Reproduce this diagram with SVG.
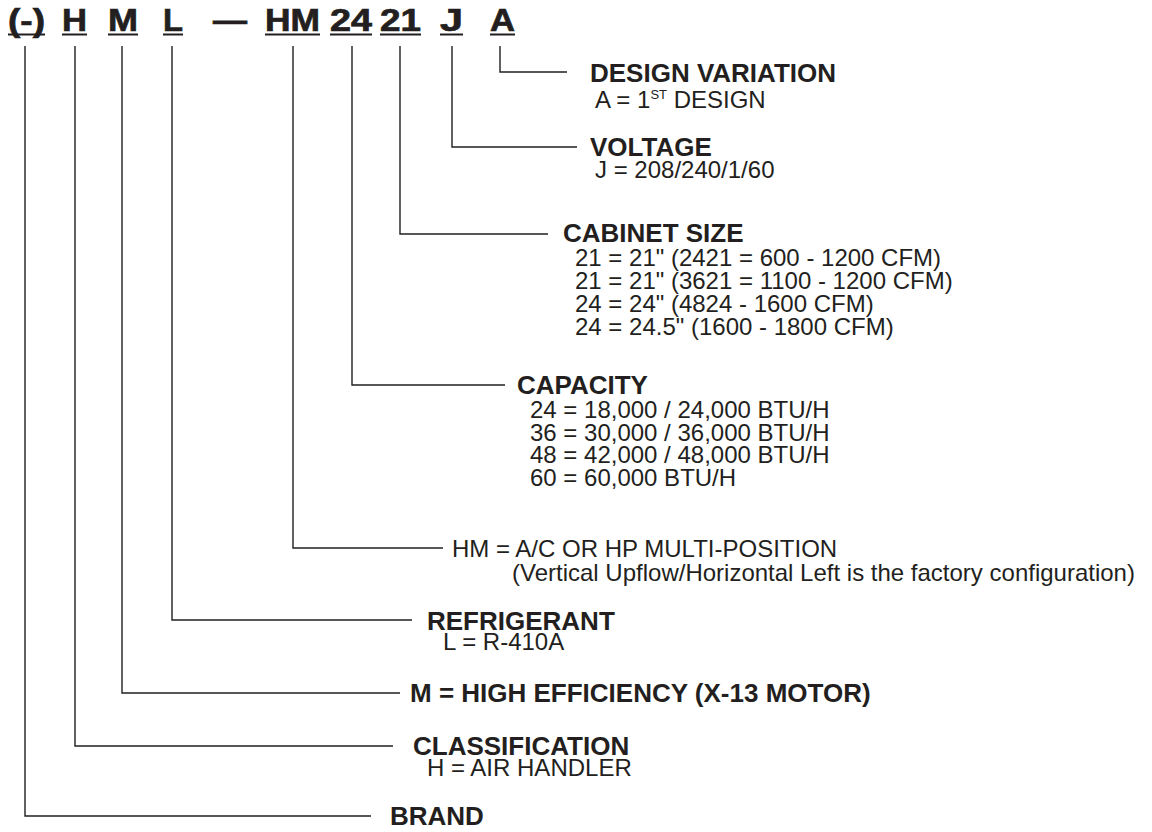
<svg xmlns="http://www.w3.org/2000/svg" width="1152" height="832" viewBox="0 0 1152 832">
<style>
text{font-family:"Liberation Sans",Arial,Helvetica,sans-serif;fill:#231f20}
.code{font-size:31px;font-weight:bold;stroke:#231f20;stroke-width:0.7px}
.h{font-size:26px;font-weight:bold}
.r{font-size:24px}
.sup{font-size:13px}
.ul{stroke:#231f20;stroke-width:2.2;fill:none}
.c{stroke:#231f20;stroke-width:1.4;fill:none}
</style>
<rect width="1152" height="832" fill="#ffffff"/>
<g id="code">
<text class="code" x="8" y="31" textLength="37" lengthAdjust="spacingAndGlyphs">(-)</text>
<text class="code" x="62" y="31" textLength="25" lengthAdjust="spacingAndGlyphs">H</text>
<text class="code" x="108" y="31" textLength="30" lengthAdjust="spacingAndGlyphs">M</text>
<text class="code" x="163" y="31" textLength="20" lengthAdjust="spacingAndGlyphs">L</text>
<text class="code" x="213" y="31" textLength="34" lengthAdjust="spacingAndGlyphs">—</text>
<text class="code" x="265" y="31" textLength="55" lengthAdjust="spacingAndGlyphs">HM</text>
<text class="code" x="330" y="31" textLength="42" lengthAdjust="spacingAndGlyphs">24</text>
<text class="code" x="380" y="31" textLength="41" lengthAdjust="spacingAndGlyphs">21</text>
<text class="code" x="440" y="31" textLength="23" lengthAdjust="spacingAndGlyphs">J</text>
<text class="code" x="490" y="31" textLength="25" lengthAdjust="spacingAndGlyphs">A</text>
<path class="ul" d="M8,34.5H45M62,34.5H87M108,34.5H138M163,34.5H183M265,34.5H320M330,34.5H372M380,34.5H421M440,34.5H463M490,34.5H515"/>
</g>
<g id="connectors">
<path class="c" d="M500,46V72H567"/>
<path class="c" d="M452,46V147H577"/>
<path class="c" d="M400,46V234H548"/>
<path class="c" d="M352,46V385H505"/>
<path class="c" d="M293,46V548H443"/>
<path class="c" d="M172,46V620H412"/>
<path class="c" d="M122,46V693H400"/>
<path class="c" d="M75,46V746H393"/>
<path class="c" d="M25,46V816H371"/>
</g>
<g id="design-variation">
<text class="h" x="590" y="82">DESIGN VARIATION</text>
<text class="r" x="595" y="108">A = 1<tspan class="sup" dy="-9">ST</tspan><tspan dy="9"> DESIGN</tspan></text>
</g>
<g id="voltage">
<text class="h" x="590" y="156">VOLTAGE</text>
<text class="r" x="595" y="178">J = 208/240/1/60</text>
</g>
<g id="cabinet-size">
<text class="h" x="563" y="242">CABINET SIZE</text>
<text class="r" x="575" y="266">21 = 21" (2421 = 600 - 1200 CFM)</text>
<text class="r" x="575" y="289">21 = 21" (3621 = 1100 - 1200 CFM)</text>
<text class="r" x="575" y="312">24 = 24" (4824 - 1600 CFM)</text>
<text class="r" x="575" y="335">24 = 24.5" (1600 - 1800 CFM)</text>
</g>
<g id="capacity">
<text class="h" x="517" y="394">CAPACITY</text>
<text class="r" x="530" y="418">24 = 18,000 / 24,000 BTU/H</text>
<text class="r" x="530" y="440.5">36 = 30,000 / 36,000 BTU/H</text>
<text class="r" x="530" y="463">48 = 42,000 / 48,000 BTU/H</text>
<text class="r" x="530" y="485.5">60 = 60,000 BTU/H</text>
</g>
<g id="multi-position">
<text class="r" x="452" y="557">HM = A/C OR HP MULTI-POSITION</text>
<text class="r" x="512" y="581">(Vertical Upflow/Horizontal Left is the factory configuration)</text>
</g>
<g id="refrigerant">
<text class="h" x="427" y="630">REFRIGERANT</text>
<text class="r" x="443" y="650">L = R-410A</text>
</g>
<g id="efficiency">
<text class="h" x="410" y="702">M = HIGH EFFICIENCY (X-13 MOTOR)</text>
</g>
<g id="classification">
<text class="h" x="413" y="755">CLASSIFICATION</text>
<text class="r" x="427" y="776">H = AIR HANDLER</text>
</g>
<g id="brand">
<text class="h" x="390" y="825">BRAND</text>
</g>
</svg>
